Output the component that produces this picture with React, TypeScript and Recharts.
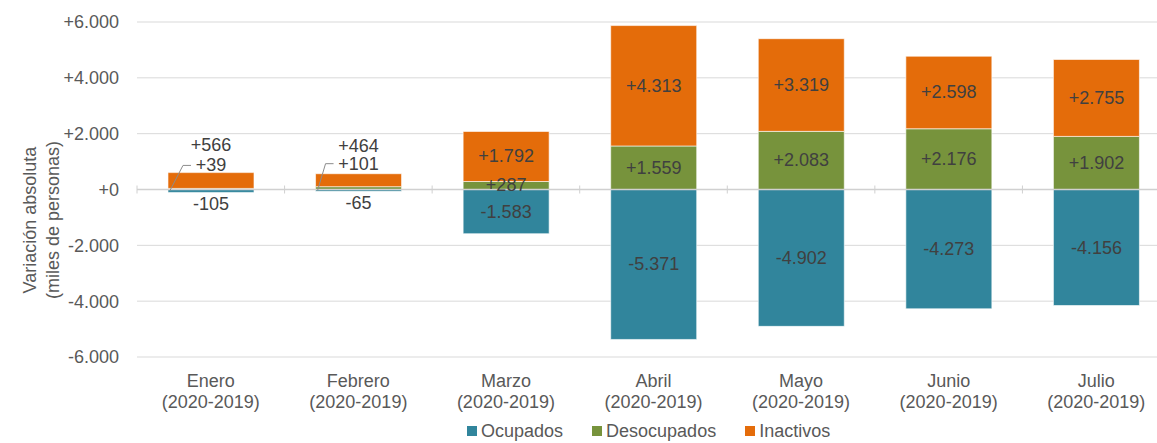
import {
  Bar,
  BarChart,
  CartesianGrid,
  LabelList,
  Legend,
  ReferenceLine,
  XAxis,
  YAxis,
} from 'recharts';

const months = ['Enero', 'Febrero', 'Marzo', 'Abril', 'Mayo', 'Junio', 'Julio'];
const period = '(2020-2019)';
const ocupados = [-105, -65, -1583, -5371, -4902, -4273, -4156];
const desocupados = [39, 101, 287, 1559, 2083, 2176, 1902];
const inactivos = [566, 464, 1792, 4313, 3319, 2598, 2755];
const yTicks = [-6000, -4000, -2000, 0, 2000, 4000, 6000];

const COLORS = { ocupados: '#31859C', desocupados: '#77933C', inactivos: '#E46C0A' };
const FONT = 'Liberation Sans, Arial, sans-serif';
const TEXT = '#404040';
const AXIS_TEXT = '#595959';

const chartData = months.map((m, i) => ({
  mes: m,
  Ocupados: ocupados[i],
  Desocupados: desocupados[i],
  Inactivos: inactivos[i],
}));

const fmt = (v: number) =>
  (v < 0 ? '-' : '+') + Math.abs(v).toString().replace(/\B(?=(\d{3})+(?!\d))/g, '.');

// small bars (Enero, Febrero) get their labels outside
const isSmall = (i: number) => Math.abs(ocupados[i]) + desocupados[i] + inactivos[i] < 1000;

function OcupadosLabel(props: any) {
  const { x, y, width, height, value, index } = props;
  const cx = x + width / 2;
  const top = Math.min(y, y + height);
  const bottom = Math.max(y, y + height);
  const cy = isSmall(index) ? bottom + 18 : (top + bottom) / 2 + 6;
  return (
    <text x={cx} y={cy} textAnchor="middle" fill={TEXT} fontSize={18} fontFamily={FONT}>
      {fmt(value)}
    </text>
  );
}

function DesocupadosLabel(props: any) {
  const { x, y, width, height, value, index } = props;
  const cx = x + width / 2;
  const top = Math.min(y, y + height);
  const bottom = Math.max(y, y + height);
  if (isSmall(index)) {
    const ly = top - 23;
    const txt = fmt(value);
    const end = cx - (txt.length * 10) / 2 - 5;
    return (
      <g>
        <polyline
          points={`${x + 2},${bottom + 1} ${end - 8},${ly} ${end},${ly}`}
          fill="none"
          stroke="#8c8c8c"
          strokeWidth={1}
        />
        <text x={cx} y={ly + 6} textAnchor="middle" fill={TEXT} fontSize={18} fontFamily={FONT}>
          {txt}
        </text>
      </g>
    );
  }
  return (
    <text x={cx} y={(top + bottom) / 2 + 6} textAnchor="middle" fill={TEXT} fontSize={18} fontFamily={FONT}>
      {fmt(value)}
    </text>
  );
}

function InactivosLabel(props: any) {
  const { x, y, width, height, value, index } = props;
  const cx = x + width / 2;
  const top = Math.min(y, y + height);
  const bottom = Math.max(y, y + height);
  const cy = isSmall(index) ? top - 22 : (top + bottom) / 2 + 6;
  return (
    <text x={cx} y={cy} textAnchor="middle" fill={TEXT} fontSize={18} fontFamily={FONT}>
      {fmt(value)}
    </text>
  );
}

function MonthTick(props: any) {
  const { x, y, payload } = props;
  return (
    <text x={x} y={y} textAnchor="middle" fill={AXIS_TEXT} fontSize={18} fontFamily={FONT}>
      <tspan x={x} dy={24}>{payload.value}</tspan>
      <tspan x={x} dy={21}>{period}</tspan>
    </text>
  );
}

function ZeroAxis(props: any) {
  const { x1, y1, x2 } = props;
  const n = months.length;
  const step = (x2 - x1) / n;
  return (
    <g>
      <line x1={x1} y1={y1} x2={x2} y2={y1} stroke="#d0d0d0" strokeWidth={1.5} />
      {Array.from({ length: n + 1 }, (_, i) => (
        <line key={i} x1={x1 + i * step} x2={x1 + i * step} y1={y1 - 4} y2={y1 + 4} stroke="#d0d0d0" />
      ))}
    </g>
  );
}

function YLabel() {
  const cy = 220;
  return (
    <g fill={AXIS_TEXT} fontSize={18} fontFamily={FONT}>
      <text x={0} y={0} textAnchor="middle" transform={`translate(36, ${cy}) rotate(-90)`}>
        Variación absoluta
      </text>
      <text x={0} y={0} textAnchor="middle" transform={`translate(59, ${cy}) rotate(-90)`}>
        (miles de personas)
      </text>
    </g>
  );
}

function LegendContent() {
  const items = [
    { name: 'Ocupados', color: COLORS.ocupados },
    { name: 'Desocupados', color: COLORS.desocupados },
    { name: 'Inactivos', color: COLORS.inactivos },
  ];
  return (
    <div style={{ display: 'flex', alignItems: 'center', height: 24, fontFamily: FONT, fontSize: 18, color: AXIS_TEXT }}>
      {items.map((it) => (
        <div key={it.name} style={{ display: 'flex', alignItems: 'center', marginRight: 29 }}>
          <span style={{ width: 10, height: 10, background: it.color, marginRight: 4, display: 'inline-block' }} />
          <span>{it.name}</span>
        </div>
      ))}
    </div>
  );
}

export default function App() {
  return (
    <div style={{ position: 'absolute', left: 0, top: 0, width: 1157, height: 443, overflow: 'hidden', background: '#fff' }}>
      <BarChart
        width={1180}
        height={443}
        data={chartData}
        stackOffset="sign"
        barCategoryGap="21%"
        margin={{ top: 22, right: 10, bottom: 0, left: 0 }}
      >
        <CartesianGrid vertical={false} stroke="#d9d9d9" />
        <XAxis dataKey="mes" axisLine={false} tickLine={false} tick={<MonthTick />} tickMargin={0} height={62} interval={0} />
        <YAxis
          domain={[-6000, 6000]}
          ticks={yTicks}
          tickFormatter={fmt}
          axisLine={false}
          tickLine={false}
          tickSize={0}
          tickMargin={18}
          width={137}
          tick={{ fill: AXIS_TEXT, fontSize: 18, fontFamily: FONT }}
          label={<YLabel />}
        />
        <ReferenceLine y={0} shape={<ZeroAxis />} />
        <Bar dataKey="Ocupados" stackId="a" fill={COLORS.ocupados} stroke="#ffffff" strokeOpacity={0.6} isAnimationActive={false}>
          <LabelList dataKey="Ocupados" content={<OcupadosLabel />} />
        </Bar>
        <Bar dataKey="Desocupados" stackId="a" fill={COLORS.desocupados} stroke="#ffffff" strokeOpacity={0.6} isAnimationActive={false}>
          <LabelList dataKey="Desocupados" content={<DesocupadosLabel />} />
        </Bar>
        <Bar dataKey="Inactivos" stackId="a" fill={COLORS.inactivos} stroke="#ffffff" strokeOpacity={0.6} isAnimationActive={false}>
          <LabelList dataKey="Inactivos" content={<InactivosLabel />} />
        </Bar>
        <Legend
          verticalAlign="bottom"
          content={<LegendContent />}
          wrapperStyle={{ left: 467, width: 'auto', height: 24, bottom: 0 }}
        />
      </BarChart>
    </div>
  );
}
